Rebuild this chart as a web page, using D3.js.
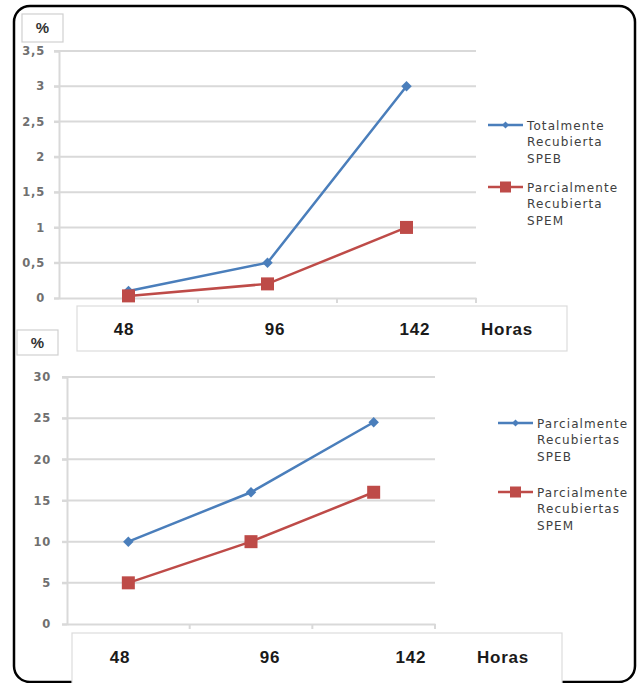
<!DOCTYPE html>
<html><head><meta charset="utf-8">
<script src="https://cdn.jsdelivr.net/npm/d3@7"></script>
<style>body{margin:0;background:#fff}svg{display:block}</style>
</head><body>
<script>
const categories = ["48", "96", "142"];
const xAxisTitle = "Horas";

const topTicks = [0, 0.5, 1, 1.5, 2, 2.5, 3, 3.5];
const topSPEB = [0.1, 0.5, 3];
const topSPEM = [0.03, 0.2, 1];
const topLegend = [["Totalmente", "Recubierta", "SPEB"], ["Parcialmente", "Recubierta", "SPEM"]];

const botTicks = [0, 5, 10, 15, 20, 25, 30];
const botSPEB = [10, 16, 24.5];
const botSPEM = [5, 10, 16];
const botLegend = [["Parcialmente", "Recubiertas", "SPEB"], ["Parcialmente", "Recubiertas", "SPEM"]];

const BLUE = "#4a7ebb", RED = "#be4b48", GRID = "#d9d9d9";
const fmt = d => String(d).replace(".", ",");

const svg = d3.select("body").append("svg").attr("width", 638).attr("height", 683);

// outer frame
svg.append("rect").attr("x", 14).attr("y", 6).attr("width", 621).attr("height", 676)
  .attr("rx", 16).attr("fill", "none").attr("stroke", "#000").attr("stroke-width", 2.5);

function panel(cfg) {
  const g = svg.append("g");
  const x = d3.scaleBand().domain(categories).range([cfg.x0, cfg.x1]);
  const y = d3.scaleLinear().domain([0, cfg.ticks[cfg.ticks.length - 1]]).range([cfg.y0, cfg.y1]);

  // % box
  g.append("rect").attr("x", cfg.pbox[0]).attr("y", cfg.pbox[1]).attr("width", cfg.pbox[2]).attr("height", cfg.pbox[3])
    .attr("fill", "#fff").attr("stroke", "#d0d0d0").attr("stroke-width", 1.2);
  g.append("text").attr("x", cfg.pbox[0] + cfg.pbox[2] / 2).attr("y", cfg.pbox[1] + cfg.pbox[3] / 2 + 5)
    .attr("text-anchor", "middle").attr("font-family", "Liberation Sans, Arial, sans-serif")
    .attr("font-weight", "bold").attr("font-size", 15).attr("fill", "#333").text("%");

  // gridlines
  g.selectAll(".grid").data(cfg.ticks.filter(t => t > 0)).join("line")
    .attr("x1", cfg.x0 - 5).attr("x2", cfg.x1).attr("y1", d => y(d)).attr("y2", d => y(d))
    .attr("stroke", GRID).attr("stroke-width", 2);

  // y axis
  const ya = g.append("g").attr("transform", `translate(${cfg.x0},0)`)
    .call(d3.axisLeft(y).tickValues(cfg.ticks).tickSize(5).tickPadding(cfg.tickPad).tickFormat(fmt));
  ya.select(".domain").attr("stroke", GRID).attr("stroke-width", 2);
  ya.selectAll(".tick line").attr("stroke", GRID).attr("stroke-width", 2);
  ya.selectAll(".tick text").attr("font-family", "DejaVu Sans, sans-serif")
    .attr("font-size", 11.5).attr("font-weight", "bold").attr("letter-spacing", 0.8).attr("fill", "#707070");

  // x axis (baseline + ticks at band edges)
  const xa = g.append("g").attr("transform", `translate(0,${cfg.y0})`)
    .call(d3.axisBottom(x).tickSize(0).tickFormat(""));
  xa.select(".domain").attr("stroke", GRID).attr("stroke-width", 2);
  g.selectAll(".xt").data(categories).join("line")
    .attr("x1", d => x(d) + x.bandwidth()).attr("x2", d => x(d) + x.bandwidth())
    .attr("y1", cfg.y0).attr("y2", cfg.y0 + 5).attr("stroke", GRID).attr("stroke-width", 2);

  // category label box
  const b = cfg.xbox;
  g.append("rect").attr("x", b[0]).attr("y", b[1]).attr("width", b[2]).attr("height", b[3])
    .attr("fill", "#fff").attr("stroke", "#dcdcdc").attr("stroke-width", 1.2);
  const labels = categories.concat([xAxisTitle]);
  const lx = d3.scaleOrdinal().domain(labels).range(cfg.labelOffsets.map(o => b[0] + o));
  g.selectAll(".cl").data(labels).join("text")
    .attr("x", d => lx(d)).attr("y", cfg.labelY).attr("text-anchor", "middle")
    .attr("font-family", "Liberation Sans, Arial, sans-serif").attr("font-weight", "bold")
    .attr("font-size", 17).attr("letter-spacing", 0.8).attr("fill", "#1a1a1a").text(d => d);

  // lines
  const line = d3.line().x((d, i) => x(categories[i]) + x.bandwidth() / 2).y(d => y(d));
  g.append("path").datum(cfg.s1).attr("d", line).attr("fill", "none").attr("stroke", BLUE).attr("stroke-width", 2.5);
  g.append("path").datum(cfg.s2).attr("d", line).attr("fill", "none").attr("stroke", RED).attr("stroke-width", 2.5);

  const diamond = d3.symbol().type(d3.symbolSquare).size(55);
  g.selectAll(".m1").data(cfg.s1).join("path")
    .attr("d", diamond)
    .attr("transform", (d, i) => `translate(${x(categories[i]) + x.bandwidth() / 2},${y(d)}) rotate(45)`)
    .attr("fill", BLUE);
  g.selectAll(".m2").data(cfg.s2).join("rect")
    .attr("x", (d, i) => x(categories[i]) + x.bandwidth() / 2 - 6.5).attr("y", d => y(d) - 6.5)
    .attr("width", 13).attr("height", 13).attr("fill", RED);

  // legend
  const colors = [BLUE, RED];
  cfg.legend.forEach((lines, k) => {
    const ly = cfg.legY[k];
    const c = colors[k];
    g.append("line").attr("x1", cfg.legX).attr("x2", cfg.legX + 35).attr("y1", ly).attr("y2", ly)
      .attr("stroke", c).attr("stroke-width", 2.5);
    if (k === 0) {
      g.append("path").attr("d", d3.symbol().type(d3.symbolSquare).size(24))
        .attr("transform", `translate(${cfg.legX + 17.5},${ly}) rotate(45)`).attr("fill", c);
    } else {
      g.append("rect").attr("x", cfg.legX + 12).attr("y", ly - 5.5).attr("width", 11).attr("height", 11).attr("fill", c);
    }
    lines.forEach((t, j) => {
      g.append("text").attr("x", cfg.legX + 39).attr("y", ly + 4.5 + j * 16.5)
        .attr("font-family", "DejaVu Sans, sans-serif").attr("font-size", 12)
        .attr("letter-spacing", 1.1).attr("fill", "#404040").text(t);
    });
  });
}

panel({
  x0: 59, x1: 476, y0: 298, y1: 51, ticks: topTicks, tickPad: 9,
  s1: topSPEB, s2: topSPEM,
  pbox: [22, 14, 41, 28],
  xbox: [77, 306, 490, 45], labelOffsets: [47, 198, 338, 430], labelY: 335,
  legend: topLegend, legX: 488, legY: [125, 187]
});

panel({
  x0: 67, x1: 435, y0: 624, y1: 377, ticks: botTicks, tickPad: 11,
  s1: botSPEB, s2: botSPEM,
  pbox: [17, 330, 41, 25],
  xbox: [72, 633, 490, 52], labelOffsets: [48, 198, 339, 431], labelY: 663,
  legend: botLegend, legX: 498, legY: [423, 492]
});
</script>
</body></html>
